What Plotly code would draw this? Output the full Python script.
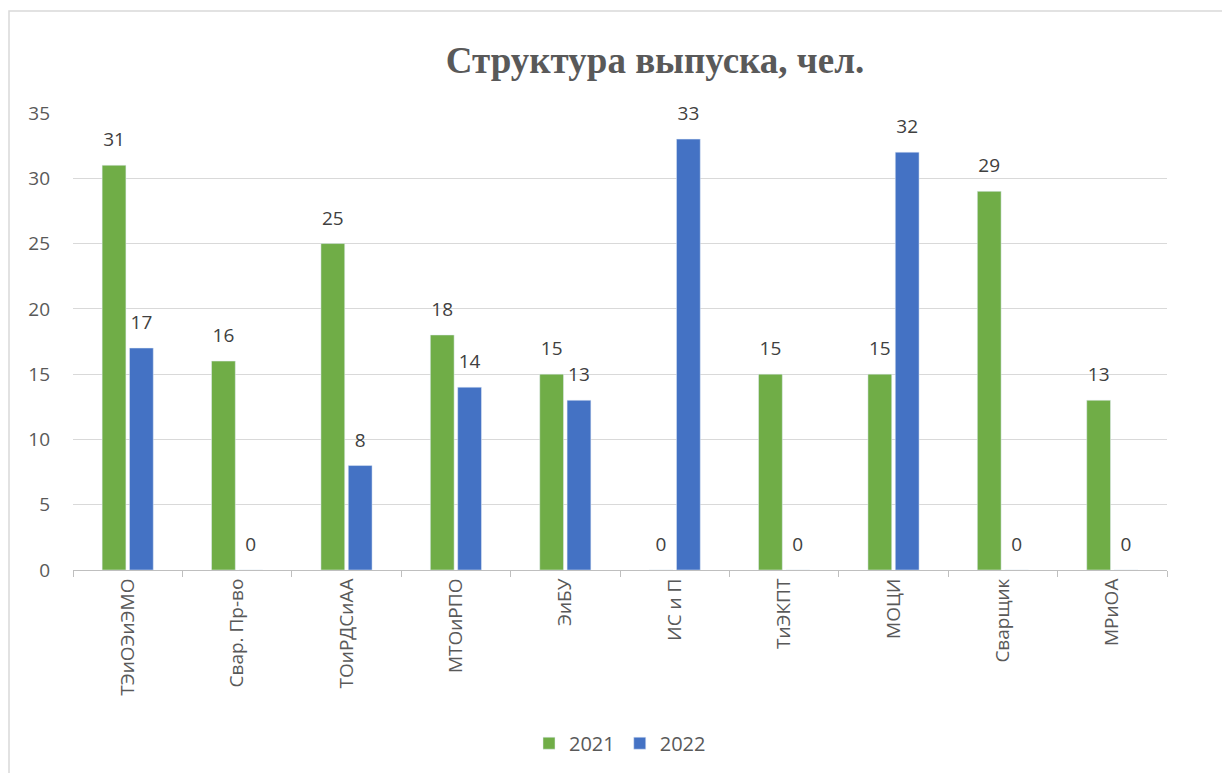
import plotly.graph_objects as go

categories = ["ТЭиОЭиЭМО", "Свар. Пр-во", "ТОиРДСиАА", "МТОиРПО", "ЭиБУ",
              "ИС и П", "ТиЭКПТ", "МОЦИ", "Сварщик", "МРиОА"]
values_2021 = [31, 16, 25, 18, 15, 0, 15, 15, 29, 13]
values_2022 = [17, 0, 8, 14, 13, 33, 0, 32, 0, 0]
y_ticks = [0, 5, 10, 15, 20, 25, 30, 35]

font_family = "Open Sans, Liberation Sans, Arial, sans-serif"
label_tpl = "<span style='font-size:19px'>%{text}</span><br> "

fig = go.Figure()
for name, vals, color in [("2021", values_2021, "#70AD47"), ("2022", values_2022, "#4472C4")]:
    fig.add_trace(go.Bar(
        name=name, x=categories, y=vals, marker_color=color,
        text=vals, texttemplate=label_tpl, textposition="outside",
        textfont=dict(size=10, color="#404040", family=font_family),
        constraintext="none", cliponaxis=False,
    ))

fig.update_layout(
    width=1230, height=773,
    paper_bgcolor="white", plot_bgcolor="white",
    margin=dict(l=65, r=71, t=105, b=211, autoexpand=False),
    barmode="group", bargap=0.5, bargroupgap=0.13,
    title=dict(text="<b>Структура выпуска, чел.</b>", xref="paper", x=0.532, xanchor="center",
               y=0.933, yanchor="middle",
               font=dict(family="Liberation Serif, Times New Roman, serif", size=37, color="#595959")),
    legend=dict(orientation="h", x=0.5, xanchor="center", y=-0.379, yanchor="middle",
                font=dict(size=20, color="#595959", family=font_family),
                itemwidth=30, traceorder="normal"),
    font=dict(family=font_family, color="#595959"),
)
fig.update_yaxes(range=[0, 35], tickvals=y_ticks, showgrid=True, gridcolor="#d9d9d9",
                 gridwidth=1, zeroline=False, showline=False, automargin=False,
                 tickfont=dict(size=19, color="#595959", family=font_family), ticks="",
                 ticklabelstandoff=22)
fig.update_xaxes(showline=True, linecolor="#bfbfbf", linewidth=1, ticks="outside",
                 tickson="boundaries", ticklen=6, tickcolor="#bfbfbf", tickangle=-90,
                 automargin=False,
                 tickfont=dict(size=19, color="#595959", family=font_family))

fig.add_shape(type="rect", xref="paper", yref="paper",
              x0=-0.0585, x1=1.08, y0=-0.48, y1=1.223,
              line=dict(color="#d9d9d9", width=1.5), fillcolor="rgba(0,0,0,0)", layer="below")

fig.write_html("out.html")
